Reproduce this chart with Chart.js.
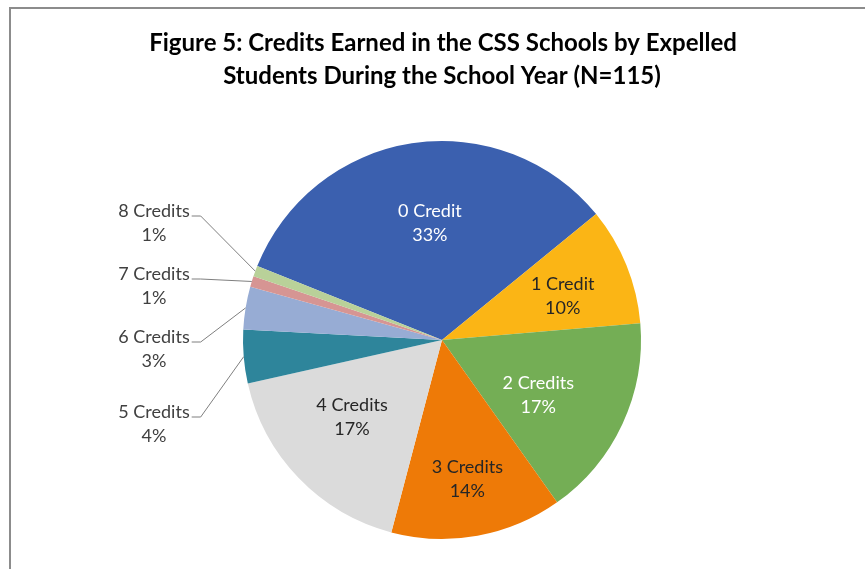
<!DOCTYPE html>
<html>
<head>
<meta charset="utf-8">
<title>Credits Earned - CSS Schools</title>
<script src="https://cdn.jsdelivr.net/npm/chart.js@4.4.0/dist/chart.umd.min.js"></script>
<style>
  html, body { margin: 0; padding: 0; background: #fff; overflow: hidden; }
  #wrap { position: relative; width: 865px; height: 569px; }
  #frame {
    position: absolute; left: 9px; top: 7px; width: 900px; height: 600px;
    border-left: 2px solid #8c8c8c; border-top: 2px solid #8c8c8c;
  }
  canvas { position: absolute; left: 0; top: 0; }
</style>
</head>
<body>
<div id="wrap">
  <div id="frame"></div>
  <canvas id="myChart" width="865" height="569"></canvas>
</div>
<script>
// Creditos obtenidos por alumnos expulsados (N=115)
const titulo = [
  'Figure 5: Credits Earned in the CSS Schools by Expelled',
  'Students During the School Year (N=115)',
];
const categorias = ['0 Credit', '1 Credit', '2 Credits', '3 Credits', '4 Credits',
  '5 Credits', '6 Credits', '7 Credits', '8 Credits'];
const alumnos = [38, 11, 19, 16, 20, 5, 4, 1, 1];
const porcentajes = ['33%', '10%', '17%', '14%', '17%', '4%', '3%', '1%', '1%'];
const colores = ['#3B60AF', '#FBB515', '#74AE55', '#EE7A07', '#DBDBDB',
  '#2E859B', '#97ACD4', '#D69593', '#B9D199'];

const FUENTE = 'Lato, "Open Sans", sans-serif';

// etiquetas dentro de la torta: color y ajuste en px desde el punto a 0.6 del radio
const colorTexto = ['#ffffff', '#262626', '#ffffff', '#262626', '#262626'];
const ajusteTexto = [[6, 1], [10, 1], [-12, 5], [4, 22], [-4, -6]];
// etiquetas de afuera (5 a 8 creditos): desplazamiento vertical desde el centro
const yAfuera = { 5: 72, 6: -3, 7: -66, 8: -129 };

const etiquetas = {
  id: 'etiquetas',
  afterDraw(chart) {
    const ctx = chart.ctx;
    const meta = chart.getDatasetMeta(0);
    ctx.save();

    // titulo
    ctx.fillStyle = '#000';
    ctx.font = 'bold 24px ' + FUENTE;
    ctx.textAlign = 'center';
    ctx.textBaseline = 'middle';
    ctx.fillText(titulo[0], 443, 43);
    ctx.fillText(titulo[1], 442, 76);

    ctx.font = '18px ' + FUENTE;
    meta.data.forEach((arc, i) => {
      const p = arc.getProps(['x', 'y', 'startAngle', 'endAngle', 'outerRadius'], true);
      const mid = (p.startAngle + p.endAngle) / 2;
      if (i < 5) {
        const d = p.outerRadius * 0.6;
        const tx = p.x + Math.cos(mid) * d + ajusteTexto[i][0];
        const ty = p.y + Math.sin(mid) * d + ajusteTexto[i][1];
        ctx.fillStyle = colorTexto[i];
        ctx.textAlign = 'center';
        ctx.fillText(categorias[i], tx, ty - 12);
        ctx.fillText(porcentajes[i], tx, ty + 12);
      } else {
        const tx = p.x - p.outerRadius - 89;
        const ty = p.y + yAfuera[i];
        ctx.fillStyle = '#404040';
        ctx.textAlign = 'center';
        ctx.fillText(categorias[i], tx, ty);
        ctx.fillText(porcentajes[i], tx, ty + 24);
        // linea guia hasta el borde de la porcion
        const w = ctx.measureText(categorias[i]).width;
        const x0 = tx + w / 2 + 2;
        const y0 = ty + 5;
        const ex = p.x + Math.cos(mid) * p.outerRadius;
        const ey = p.y + Math.sin(mid) * p.outerRadius;
        ctx.strokeStyle = '#7f7f7f';
        ctx.lineWidth = 1;
        ctx.beginPath();
        ctx.moveTo(x0, y0);
        ctx.lineTo(x0 + 9, y0);
        ctx.lineTo(ex, ey);
        ctx.stroke();
      }
    });
    ctx.restore();
  },
};

const data = {
  labels: categorias,
  datasets: [{
    label: 'Alumnos',
    data: alumnos,
    backgroundColor: colores,
    borderWidth: 0,
    radius: 199,
  }],
};

const config = {
  type: 'pie',
  data: data,
  options: {
    responsive: false,
    animation: false,
    rotation: -68.2,
    layout: { padding: { left: 243, right: 224, top: 141, bottom: 30 } },
    plugins: {
      legend: { display: false },
      title: { display: false },
      tooltip: { enabled: false },
    },
  },
  plugins: [etiquetas],
};

const myChart = new Chart(document.getElementById('myChart'), config);
</script>
</body>
</html>
